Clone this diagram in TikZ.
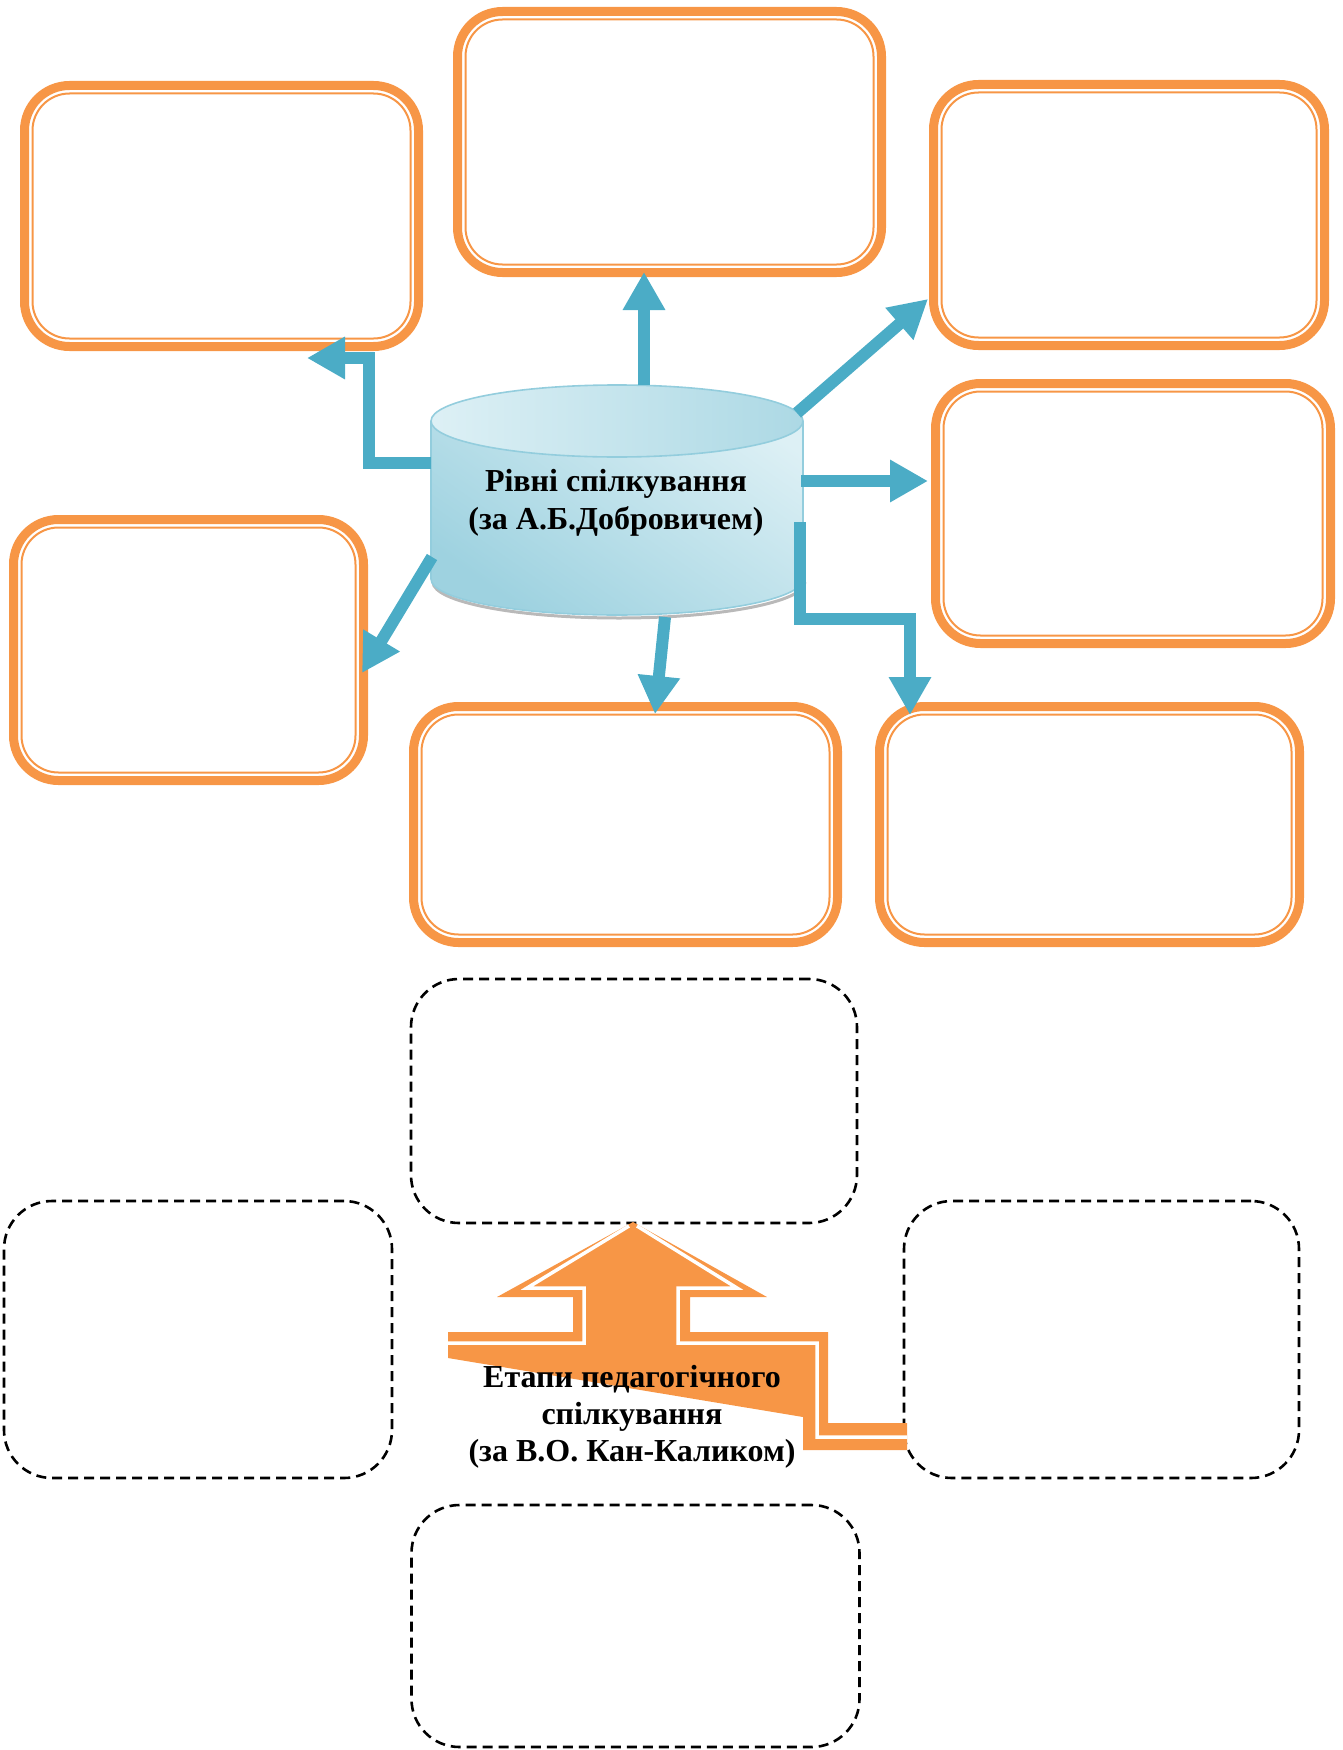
\documentclass[tikz,border=0pt]{standalone}
\usepackage{fontspec}
\setmainfont{Liberation Serif}
\usetikzlibrary{arrows.meta}

\definecolor{ornge}{HTML}{F79646}
\definecolor{aqua}{HTML}{4BACC6}
\definecolor{cylline}{HTML}{93CDDD}
\definecolor{cyllight}{HTML}{DDF0F5}
\definecolor{cyldark}{HTML}{9ED2E0}

\tikzset{
  obox/.style={rectangle, rounded corners=45pt, draw=ornge, line width=9pt, inner sep=0pt,
    path picture={\draw[ornge, line width=2pt, rounded corners=37pt]
      ([shift={(8pt,-8pt)}]path picture bounding box.north west) rectangle
      ([shift={(-8pt,8pt)}]path picture bounding box.south east);}},
  dbox/.style={rectangle, rounded corners=48pt, draw, line width=2.6pt,
    dash pattern=on 10pt off 6pt, inner sep=0pt},
  sz/.style 2 args={minimum width=#1pt, minimum height=#2pt},
  barrow/.style={draw=aqua, line width=12pt, line join=miter,
    -{Triangle[length=38pt,width=40pt]}},
  lbl/.style={font=\bfseries\fontsize{32}{38}\selectfont, align=center, inner sep=0pt},
}

\begin{document}
\begin{tikzpicture}[x=1pt,y=-1pt]
\useasboundingbox (0,0) rectangle (1343,1750);

% levels
\node[obox, sz={394}{261}] (b1) at (221.5,216) {};
\node[obox, sz={424}{261}] (b2) at (669.5,142) {};
\node[obox, sz={391}{261}] (b3) at (1129,215) {};
\node[obox, sz={395}{260}] (b4) at (1133,513.5) {};
\node[obox, sz={350}{261}] (b5) at (188.5,650) {};
\node[obox, sz={424}{236}] (b6) at (625.5,824.5) {};
\node[obox, sz={420}{236}] (b7) at (1089.5,824.5) {};

% cylinder
\draw[gray!55, line width=3pt] (433,582) arc[start angle=180, end angle=360, x radius=186pt, y radius=36pt];
\shade[top color=cyllight, bottom color=cyldark, shading angle=-35]
  (431,421) -- (431,579) arc[start angle=180, end angle=360, x radius=186pt, y radius=36pt]
  -- (803,421) arc[start angle=0, end angle=180, x radius=186pt, y radius=36pt] -- cycle;
\draw[cylline, line width=1.6pt]
  (431,421) -- (431,579) arc[start angle=180, end angle=360, x radius=186pt, y radius=36pt]
  -- (803,421);
\shade[left color=cyllight, right color=cyldark!85, draw=cylline, line width=1.6pt]
  (617,421) ellipse [x radius=186pt, y radius=36pt];
\node[lbl] (lvl) at (616,503) {Рівні спілкування\\(за А.Б.Добровичем)};

\coordinate (s1) at (431,463);
\coordinate (k1) at (369,358);
\coordinate (t1) at (307,358);
\coordinate (s2) at (644,385);
\coordinate (t2) at (644,272);
\coordinate (s3) at (797,413);
\coordinate (t3) at (928,299);
\coordinate (s4) at (801,481);
\coordinate (t4) at (928,481);
\coordinate (s5) at (800,522);
\coordinate (k5) at (910,619);
\coordinate (t5) at (910,715);
\coordinate (s6) at (432,557);
\coordinate (t6) at (362,673);
\coordinate (s7) at (665,617);
\coordinate (t7) at (655,714);

\draw[barrow] (s1) -| (k1) -- (t1);
\draw[barrow] (s2) -- (t2);
\draw[barrow] (s3) -- (t3);
\draw[barrow] (s4) -- (t4);
\draw[barrow] (s5) |- (k5) -- (t5);
\draw[barrow] (s6) -- (t6);
\draw[barrow] (s7) -- (t7);

% stages
\node[dbox, sz={446}{244}] (d1) at (634,1101) {};
\node[dbox, sz={388}{277}] (d2) at (198,1339.5) {};
\node[dbox, sz={395}{277}] (d3) at (1101.5,1339.5) {};
\node[dbox, sz={448}{242}] (d4) at (635.5,1626) {};

\fill[ornge] (633,1222) -- (767,1297) -- (690,1297) -- (690,1332) -- (828,1332)
  -- (828,1423) -- (907,1423) -- (907,1450) -- (803,1450) -- (803,1417)
  -- (448,1358) -- (448,1332) -- (573,1332) -- (573,1297) -- (497,1297) -- cycle;
\draw[white, line width=3.5pt, line join=miter]
  (629,1226) -- (527,1288) -- (584,1288) -- (584,1343) -- (448,1343);
\draw[white, line width=3.5pt, line join=miter]
  (637,1226) -- (737,1288) -- (678,1288) -- (678,1343) -- (817,1343) -- (817,1437) -- (907,1437);
\node[lbl, font=\bfseries\fontsize{32}{37}\selectfont] (stg) at (632,1417)
  {Етапи педагогічного\\спілкування\\(за В.О. Кан-Каликом)};
\end{tikzpicture}
\end{document}
